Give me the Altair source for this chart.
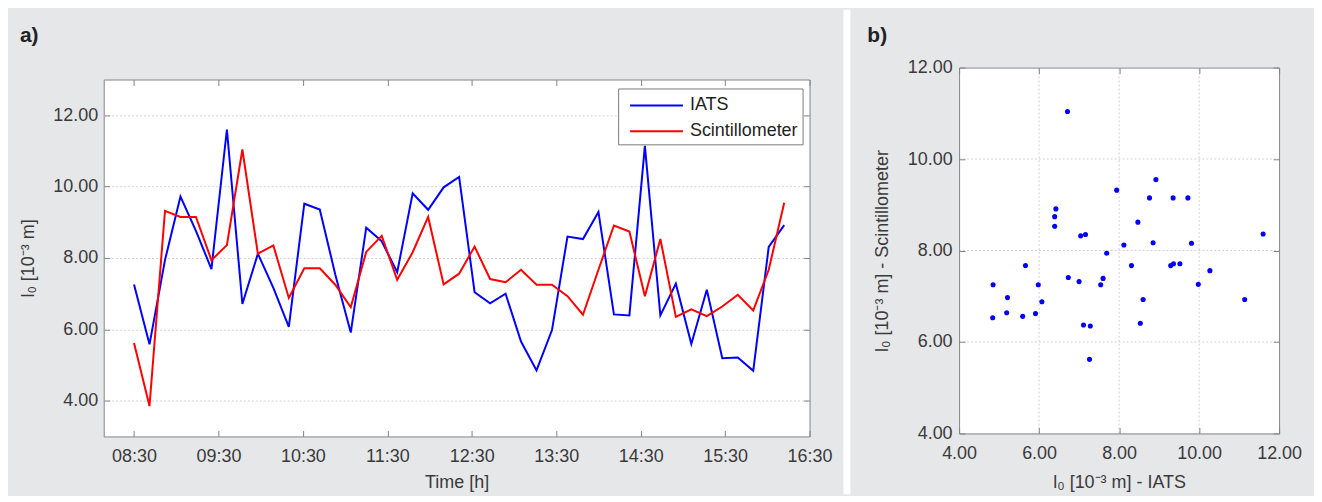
import altair as alt
import pandas as pd

# ---------------- data ----------------
times = ["08:30", "08:41", "08:52", "09:03", "09:14", "09:25", "09:36", "09:47", "09:58",
         "10:09", "10:20", "10:31", "10:42", "10:53", "11:04", "11:15", "11:26", "11:37",
         "11:48", "11:59", "12:10", "12:21", "12:32", "12:43", "12:54", "13:05", "13:16",
         "13:27", "13:38", "13:49", "14:00", "14:11", "14:22", "14:33", "14:44", "14:55",
         "15:06", "15:17", "15:28", "15:39", "15:50", "16:01", "16:12"]

iats = [7.26, 5.58, 7.94, 9.72, 8.76, 7.69, 11.60, 6.71, 8.12, 7.16,
        6.07, 9.52, 9.36, 7.54, 5.91, 8.85, 8.47, 7.60, 9.81, 9.35,
        9.98, 10.27, 7.04, 6.73, 7.00, 5.66, 4.85, 5.98, 8.60, 8.53,
        9.29, 6.42, 6.39, 11.14, 6.39, 7.28, 5.59, 7.11, 5.19, 5.21,
        4.84, 8.31, 8.92]

scint = [5.62, 3.85, 9.32, 9.15, 9.15, 7.94, 8.36, 11.04, 8.12, 8.35,
         6.88, 7.71, 7.71, 7.25, 6.62, 8.17, 8.62, 7.39, 8.16, 9.15,
         7.26, 7.56, 8.32, 7.41, 7.32, 7.67, 7.25, 7.25, 6.93, 6.41,
         7.67, 8.91, 8.74, 6.93, 8.53, 6.35, 6.56, 6.37, 6.64, 6.97,
         6.53, 7.67, 9.55]

series_names = ["IATS", "Scintillometer"]
series_colors = ["#0000ff", "#ff0000"]
panel_labels = ["a)", "b)"]

time_tick_values = [8.5, 9.5, 10.5, 11.5, 12.5, 13.5, 14.5, 15.5, 16.5]
a_y_ticks = [4, 6, 8, 10, 12]
b_domain = [4, 12]
b_ticks = [4, 6, 8, 10, 12]
b_grid = [6, 8, 10]

# ---------------- tables ----------------
hours = [int(t[:2]) + int(t[3:]) / 60 for t in times]
n = len(times)
long_df = pd.DataFrame({
    "hour": hours + hours,
    "value": iats + scint,
    "series": [series_names[0]] * n + [series_names[1]] * n,
})
pair_df = pd.DataFrame({"iats": iats, "scint": scint})
one = pd.DataFrame({"k": [0]})
lab_a = pd.DataFrame({"t": [panel_labels[0]]})
lab_b = pd.DataFrame({"t": [panel_labels[1]]})
bg_b = pd.DataFrame({"x1": [b_domain[0]], "x2": [b_domain[1]],
                     "y1": [b_domain[0]], "y2": [b_domain[1]]})
grid_b = pd.DataFrame({"g": b_grid, "lo": [b_domain[0]] * len(b_grid),
                       "hi": [b_domain[1]] * len(b_grid)})

# ---------------- style ----------------
FONT = "Liberation Sans"
TXT = "#3a3a3a"
FRAME = "#858585"
GRID = "#d2d2d2"
BG = "#e6e7e9"
FS = 18

W_A, H_A = 708, 358
W_B, H_B = 321, 355      # panel b frame rises 12 px above its group origin
B_TOP = -12

xs_a = alt.Scale(domain=[8.141, 16.5], nice=False, zero=False)
ys_a = alt.Scale(domain=[3, 13], nice=False, zero=False)
xs_b = alt.Scale(domain=b_domain, nice=False, zero=False)
ys_b = alt.Scale(domain=b_domain, range=[H_B, B_TOP], nice=False, zero=False)

time_expr = ("(floor(datum.value) < 10 ? '0' : '') + floor(datum.value) + ':' + "
             "(round((datum.value - floor(datum.value)) * 60) < 10 ? '0' : '') + "
             "round((datum.value - floor(datum.value)) * 60)")


def tick_axis(orient, values, offset=-6):
    return alt.Axis(orient=orient, values=values, offset=offset, tickSize=6, ticks=True,
                    labels=False, domain=False, grid=False, title=None,
                    tickColor=FRAME, tickWidth=1, zindex=1)


def domain_axis(orient, offset=0):
    return alt.Axis(orient=orient, offset=offset, ticks=False, labels=False,
                    domain=True, domainColor=FRAME, domainWidth=1, grid=False,
                    title=None, zindex=1)


def panel_label(df, dx, dy):
    return alt.Chart(df).mark_text(
        font=FONT, fontSize=21, fontWeight="bold", color="#222222",
        align="left", baseline="alphabetic",
    ).encode(text="t:N", x=alt.value(dx), y=alt.value(dy))


# ---------------- panel a ----------------
frame_a = alt.Chart(one).mark_rect(opacity=0).encode(
    x=alt.value(-95), x2=alt.value(742), y=alt.value(-70), y2=alt.value(416))
gap_rect = alt.Chart(one).mark_rect(color="white").encode(
    x=alt.value(742), x2=alt.value(749), y=alt.value(-70), y2=alt.value(416))

lines = alt.Chart(long_df).mark_line(strokeWidth=2, clip=True).encode(
    x=alt.X("hour:Q", scale=xs_a,
            axis=alt.Axis(orient="bottom", values=time_tick_values, labelExpr=time_expr,
                          title="Time [h]", grid=False, ticks=False, domain=False,
                          labelPadding=11, titlePadding=8, labelFlush=False,
                          labelOverlap=False)),
    y=alt.Y("value:Q", scale=ys_a,
            axis=alt.Axis(orient="left", values=a_y_ticks, format=".2f",
                          title="l₀ [10⁻³ m]", grid=True, gridDash=[2, 2],
                          gridColor=GRID, ticks=False, domain=False, labelPadding=6,
                          minExtent=53, maxExtent=53, titlePadding=13)),
    color=alt.Color("series:N",
                    scale=alt.Scale(domain=series_names, range=series_colors),
                    legend=alt.Legend(orient="none", legendX=516, legendY=9, title=None,
                                      symbolType="M-0.42,0H4", symbolSize=576,
                                      symbolStrokeWidth=2, labelFont=FONT,
                                      labelFontSize=FS, labelColor="#1e1e1e",
                                      labelOffset=42, rowPadding=4, padding=4,
                                      fillColor="white", strokeColor="#7a7a7a",
                                      cornerRadius=0)),
    order=alt.Order("hour:Q"),
)

ticks_a1 = alt.Chart(long_df).mark_point(opacity=0, clip=True).encode(
    x=alt.X("hour:Q", scale=xs_a, axis=tick_axis("bottom", time_tick_values)),
    y=alt.Y("value:Q", scale=ys_a, axis=tick_axis("left", a_y_ticks)),
)
ticks_a2 = alt.Chart(long_df).mark_point(opacity=0, clip=True).encode(
    x=alt.X("hour:Q", scale=xs_a, axis=tick_axis("top", time_tick_values)),
    y=alt.Y("value:Q", scale=ys_a, axis=tick_axis("right", a_y_ticks)),
)

panel_a = alt.layer(
    frame_a, gap_rect, lines, ticks_a1, ticks_a2, panel_label(lab_a, -84, -37.5)
).resolve_axis(x="independent", y="independent").properties(width=W_A, height=H_A)

# ---------------- panel b ----------------
frame_b = alt.Chart(one).mark_rect(opacity=0).encode(
    x=alt.value(-107), x2=alt.value(355), y=alt.value(-70), y2=alt.value(416))

plot_bg_b = alt.Chart(bg_b).mark_rect(color="white").encode(
    x=alt.X("x1:Q", scale=xs_b, axis=None), x2="x2:Q",
    y=alt.Y("y1:Q", scale=ys_b, axis=None), y2="y2:Q",
)
vgrid_b = alt.Chart(grid_b).mark_rule(color=GRID, strokeWidth=1, strokeDash=[2, 2]).encode(
    x=alt.X("g:Q", scale=xs_b, axis=None),
    y=alt.Y("lo:Q", scale=ys_b, axis=None), y2="hi:Q",
)
hgrid_b = alt.Chart(grid_b).mark_rule(color=GRID, strokeWidth=1, strokeDash=[2, 2]).encode(
    y=alt.Y("g:Q", scale=ys_b, axis=None),
    x=alt.X("lo:Q", scale=xs_b, axis=None), x2="hi:Q",
)

pts = alt.Chart(pair_df).mark_circle(size=26, color="#0000ff", opacity=1, clip=True).encode(
    x=alt.X("iats:Q", scale=xs_b,
            axis=alt.Axis(orient="bottom", values=b_ticks, format=".2f",
                          title="l₀ [10⁻³ m] - IATS", grid=False, ticks=False,
                          domain=True, domainColor=FRAME, domainWidth=1, zindex=1,
                          labelPadding=11, titlePadding=11, labelFlush=False,
                          labelOverlap=False)),
    y=alt.Y("scint:Q", scale=ys_b,
            axis=alt.Axis(orient="left", values=b_ticks, format=".2f",
                          title="l₀ [10⁻³ m] - Scintillometer", grid=False,
                          ticks=False, domain=True, domainColor=FRAME, domainWidth=1,
                          zindex=1, labelPadding=7, minExtent=54, maxExtent=54,
                          titlePadding=14)),
)
ticks_b1 = alt.Chart(pair_df).mark_point(opacity=0).encode(
    x=alt.X("iats:Q", scale=xs_b, axis=tick_axis("bottom", b_ticks)),
    y=alt.Y("scint:Q", scale=ys_b, axis=tick_axis("left", b_ticks)),
)
ticks_b2 = alt.Chart(pair_df).mark_point(opacity=0).encode(
    x=alt.X("iats:Q", scale=xs_b, axis=tick_axis("top", b_ticks, offset=-B_TOP - 6)),
    y=alt.Y("scint:Q", scale=ys_b, axis=tick_axis("right", b_ticks)),
)
edges_b = alt.Chart(pair_df).mark_point(opacity=0).encode(
    x=alt.X("iats:Q", scale=xs_b, axis=domain_axis("top", offset=-B_TOP)),
    y=alt.Y("scint:Q", scale=ys_b, axis=domain_axis("right")),
)

panel_b = alt.layer(
    frame_b, plot_bg_b, vgrid_b, hgrid_b, pts, ticks_b1, ticks_b2, edges_b,
    panel_label(lab_b, -92, -37.5)
).resolve_axis(x="independent", y="independent").properties(
    width=W_B, height=H_B,
    view=alt.ViewBackground(fill="transparent", stroke="transparent"),
)

chart = alt.hconcat(panel_a, panel_b, spacing=0).properties(
    padding=0, background=BG,
).configure_view(
    fill="white", stroke=FRAME, strokeWidth=1,
).configure_axis(
    labelFont=FONT, labelFontSize=FS, labelColor=TXT,
    titleFont=FONT, titleFontSize=FS, titleColor=TXT, titleFontWeight="normal",
)

chart.save("out.html", embed_options={"renderer": "svg", "actions": False})
